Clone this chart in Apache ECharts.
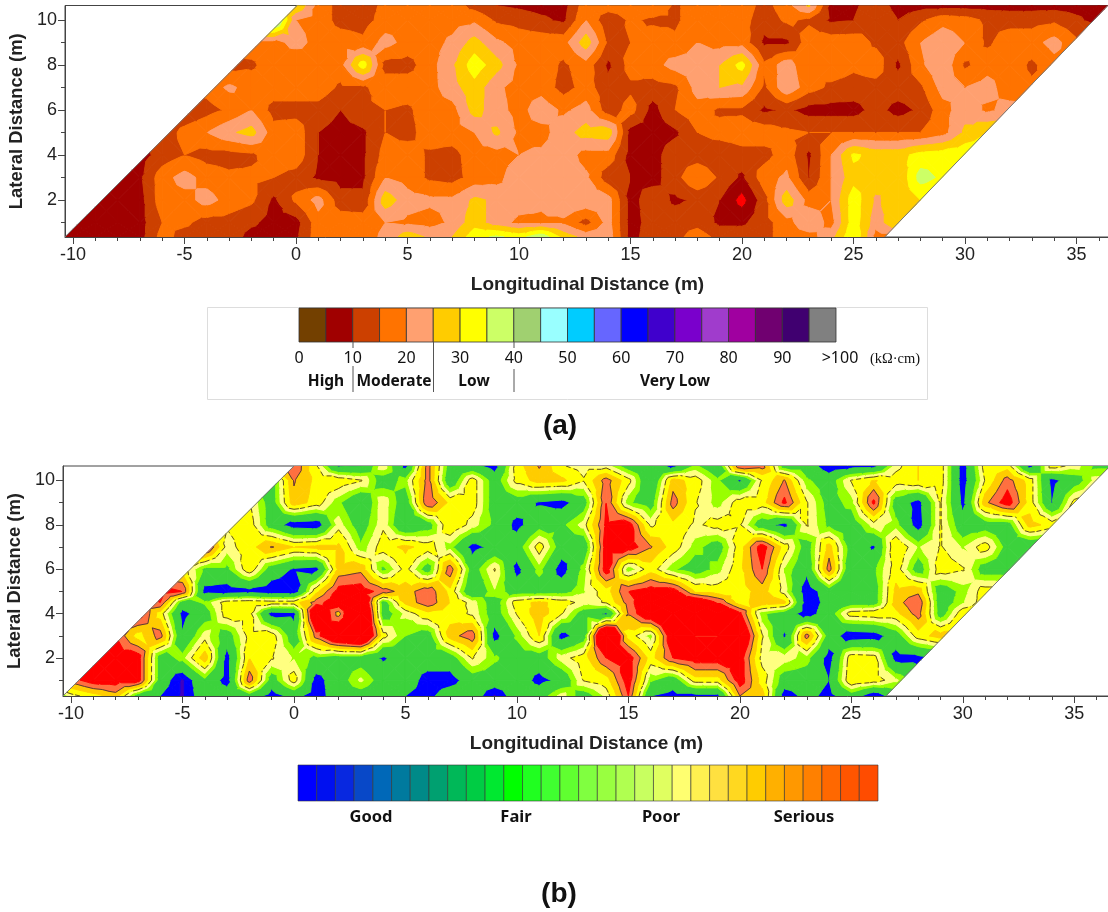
<!DOCTYPE html>
<html>
<head>
<meta charset="utf-8">
<title>Resistivity and half-cell rating maps</title>
<script src="https://cdn.jsdelivr.net/npm/echarts@6/dist/echarts.min.js"></script>
<style>
html, body { margin: 0; padding: 0; background: #fff; }
#main { width: 1108px; height: 912px; }
</style>
</head>
<body>
<div id="main"></div>
<script>
// panel (a) resistivity, one list per survey line
var rowYA = [0.36, 1, 2, 3, 4, 5, 6, 7, 8, 9, 10, 10.64];
var firstXA = [-11, -10, -9, -8, -7, -6, -5, -4, -3, -2, -1, 0];
var resist00 = [8,8,8,8,8,17,13,13,13,8,8,9,18,18,18,21,28,24,25,33,36,33,39,28,23,23,8,13,13,18,13,13,13,18,18,23,35,18,18];
var resist01 = [8,8,8,8,15,16,13,13,11,8,8,18,18,18,20,19,18,21,28,22,19,19,19,13,22,8,12,13,13,9,9,13,18,24,18,33,22,30];
var resist02 = [8,8,8,18,18,22,18,16,9,16,22,12,11,28,22,21,21,26,24,22,21,24,24,22,8,13,9,11,10,3,13,28,18,20,33,24,28,30];
var resist03 = [8,9,18,22,18,16,16,15,13,9,8,9,20,18,14,13,17,18,24,24,23,21,12,10,8,13,20,14,9,18,21,10,20,28,28,25,37,34];
var resist04 = [8,12,15,13,13,14,18,18,10,8,9,17,18,14,13,18,18,20,21,23,18,18,8,8,13,12,11,13,13,18,9,20,31,28,28,32,33,34];
var resist05 = [11,17,20,24,27,17,18,10,8,9,15,13,18,18,20,26,19,18,23,27,28,8,8,9,15,17,18,18,16,15,15,15,15,15,15,18,26,30];
var resist06 = [10,13,16,20,13,13,13,10,14,15,14,18,18,27,22,18,23,19,22,12,17,8,15,18,14,14,9,11,8,8,8,12,8,11,18,23,19,22];
var resist07 = [17,21,18,18,18,18,14,14,18,18,18,23,28,21,18,18,13,17,12,14,13,14,22,25,24,14,24,17,14,13,13,13,14,22,20,22,17,16];
var resist08 = [13,14,18,15,18,18,33,13,13,18,24,33,27,19,18,14,18,9,17,18,22,22,25,32,16,23,15,18,16,18,9,19,24,14,18,18,14,18];
var resist09 = [18,18,22,18,18,16,22,18,18,21,27,21,18,18,18,28,14,15,18,16,20,18,18,9,9,18,18,18,14,13,20,24,20,14,18,18,22,16];
var resist10 = [45,20,18,13,13,17,18,18,18,19,14,13,11,9,20,11,16,14,14,18,18,17,12,16,14,9,10,14,10,14,18,17,14,13,13,14,11,8];
var resist11 = [30,18,13,13,16,18,18,18,13,10,9,8,8,18,18,18,20,14,18,18,18,13,18,26,8,9,13,8,8,8,8,8,8,8,8,8,8,8];
var resistRows = [resist00,resist01,resist02,resist03,resist04,resist05,resist06,resist07,resist08,resist09,resist10,resist11];
var resistLevels = [0,5,10,15,20,25,30,35,40,45,50,55,200];
var resistColors = ["#ff0000","#a00000","#cc4000","#ff7300","#ffa070","#ffcc00","#ffff00","#ccff66","#a0d070","#99ffff","#00ccff","#6666ff"];
var edgeXA = [-10.36, 0.05, 26.4, 36.4];

// panel (b) condition rating
var rowYB = [0.29, 1, 2, 3, 4, 4.5, 5, 6, 7, 8, 9, 10, 10.65];
var firstXB = [-11, -10, -9, -8, -7, -7, -6, -5, -4, -3, -2, -1, 0];
var rate00 = [20,50,60,70,30,20,8,30,30,30,13,25,12,30,30,25,20,15,30,30,8,30,30,50,30,48,85,20,15,15,15,75,70,12,25,15,30,8,30];
var rate01 = [80,92,92,92,30,8,35,13,82,30,60,14,30,48,30,30,13,13,30,30,30,15,25,55,60,92,40,28,60,60,92,60,30,30,20,65,60,48,30];
var rate02 = [92,92,92,30,42,72,14,65,55,45,35,30,30,18,30,30,30,55,40,30,30,50,60,85,92,60,85,92,92,92,50,50,42,13,62,60,14,15,20];
var rate03 = [85,60,80,22,50,30,58,60,28,80,110,120,58,38,30,70,82,14,40,65,14,30,130,60,42,100,85,85,110,55,18,80,30,10,12,30,60,70];
var rate04 = [92,60,15,30,60,58,14,16,110,70,130,30,48,62,60,52,30,55,72,55,30,18,76,100,110,110,110,88,40,30,12,30,60,62,62,80,30,62];
var rate045 = [70,85,30,40,60,62,60,60,80,95,115,30,68,82,65,50,30,60,68,60,50,55,80,100,100,100,85,60,72,68,12,25,30,30,70,85,28,45,60];
var rate05 = [92,85,15,12,15,10,10,62,90,92,80,70,82,62,22,45,30,30,32,45,60,85,92,92,65,60,60,70,50,10,30,20,30,68,72,28,42,60];
var rate06 = [60,35,35,62,30,18,15,68,72,35,58,30,82,30,55,15,42,12,42,92,40,60,40,30,42,62,85,45,25,80,22,35,60,30,60,55,30,30];
var rate07 = [92,50,60,76,65,68,68,40,60,68,60,42,15,25,30,60,30,25,92,92,76,60,42,30,60,92,60,30,70,30,18,65,45,55,45,60,32,22];
var rate08 = [55,60,30,12,10,50,30,52,20,30,65,50,35,15,32,35,50,88,92,52,62,52,58,55,28,15,55,35,28,50,42,12,55,28,30,30,70,60];
var rate09 = [55,30,72,60,40,22,52,28,85,62,60,30,30,18,14,30,85,40,30,80,55,42,60,60,88,55,32,42,88,30,14,55,16,72,92,60,20,58];
var rate10 = [30,76,62,62,55,30,42,80,25,60,30,58,70,68,55,80,58,20,70,60,40,18,55,76,40,30,55,66,60,65,60,12,55,80,60,15,30,50];
var rate11 = [85,55,18,20,52,15,80,30,25,13,60,76,55,50,50,30,30,15,40,25,85,80,30,30,10,14,15,50,65,60,12,60,60,15,60,50,35,35];
var rateRows = [rate00,rate01,rate02,rate03,rate04,rate045,rate05,rate06,rate07,rate08,rate09,rate10,rate11];
var rateLevels = [0,10,20,38,46,54,65,75,85,200];
var rateColors = ["#4000c0","#0000ff","#3cd23c","#99ff00","#ffff80","#ffff00","#ffcc00","#ff7040","#ff0000"];
var edgeXB = [-10.36, 0.0, 26.55, 36.6];

// colour bars
var barColorsA = ["#734000","#a00000","#cc4000","#ff7300","#ffa070","#ffcc00","#ffff00","#ccff66","#a0d070","#99ffff","#00ccff","#6666ff","#0000ff","#4000cc","#7a00cc","#a03ccc","#a000a0","#700070","#400070","#808080"];
var barTicksA = ["0","10","20","30","40","50","60","70","80","90",">100"];
var barColorsB = ["#0000ff","#0010f0","#0828e0","#0848c8","#0068b8","#007a9e","#008a88","#00a070","#00b858","#00cc44","#00e830","#00ff00","#20ff20","#40ff30","#60ff30","#80ff40","#99ff40","#b0ff50","#c8ff60","#e0ff60","#ffff70","#fff050","#ffe040","#ffd820","#ffcc00","#ffb000","#ff9800","#ff8000","#ff6800","#ff5500","#ff4c00"];

var majorX = [-10, -5, 0, 5, 10, 15, 20, 25, 30, 35];
var minorX = [];
for (var mx = -10; mx <= 36; mx++) minorX.push(mx);
var majorY = [2, 4, 6, 8, 10];
var minorY = [1, 3, 5, 7, 9];

var labelFont = "Liberation Sans";

// cut a convex polygon [x, y, v] to the side where f(p) >= 0
function clipPoly(poly, f) {
  var out = [];
  for (var i = 0; i < poly.length; i++) {
    var a = poly[i], b = poly[(i + 1) % poly.length];
    var fa = f(a), fb = f(b);
    if (fa >= 0) out.push(a);
    if ((fa >= 0) !== (fb >= 0)) {
      var t = fa / (fa - fb);
      out.push([a[0] + (b[0] - a[0]) * t, a[1] + (b[1] - a[1]) * t, a[2] + (b[2] - a[2]) * t]);
    }
  }
  return out;
}

// filled bands and iso lines from the gridded rows
function buildContour(rows, firstX, rowY, levels, edges, lineLevels) {
  var y0 = rowY[0], y1 = rowY[rowY.length - 1];
  function leftX(y) { return edges[0] + (edges[1] - edges[0]) * (y - y0) / (y1 - y0); }
  function rightX(y) { return edges[2] + (edges[3] - edges[2]) * (y - y0) / (y1 - y0); }
  function at(j, x) {
    var k = Math.max(0, Math.min(rows[j].length - 1, x - firstX[j]));
    return rows[j][k];
  }
  var polys = [], lines = [];
  for (var j = 0; j < rows.length - 1; j++) {
    var xa = firstX[j], xb = firstX[j + 1] + rows[j + 1].length;
    for (var x = xa; x < xb; x++) {
      var c = [
        [x, rowY[j], at(j, x)],
        [x + 1, rowY[j], at(j, x + 1)],
        [x + 1, rowY[j + 1], at(j + 1, x + 1)],
        [x, rowY[j + 1], at(j + 1, x)]
      ];
      var mid = [x + 0.5, (rowY[j] + rowY[j + 1]) / 2, (c[0][2] + c[1][2] + c[2][2] + c[3][2]) / 4];
      for (var s = 0; s < 4; s++) {
        var tri = [c[s], c[(s + 1) % 4], mid];
        tri = clipPoly(tri, function (p) { return p[0] - leftX(p[1]); });
        if (tri.length < 3) continue;
        tri = clipPoly(tri, function (p) { return rightX(p[1]) - p[0]; });
        if (tri.length < 3) continue;
        for (var b = 0; b < levels.length - 1; b++) {
          (function (lo, hi, band) {
            var part = clipPoly(tri, function (p) { return p[2] - lo; });
            if (part.length >= 3) part = clipPoly(part, function (p) { return hi - p[2]; });
            if (part.length >= 3) polys.push({ band: band, pts: part });
          })(levels[b], levels[b + 1], b);
        }
        lineLevels.forEach(function (ll) {
          var cross = [];
          for (var i = 0; i < tri.length; i++) {
            var p = tri[i], q = tri[(i + 1) % tri.length];
            if ((p[2] >= ll.level) !== (q[2] >= ll.level)) {
              var t = (ll.level - p[2]) / (q[2] - p[2]);
              cross.push([p[0] + (q[0] - p[0]) * t, p[1] + (q[1] - p[1]) * t]);
            }
          }
          if (cross.length === 2) lines.push({ a: cross[0], b: cross[1], dash: ll.dash });
        });
      }
    }
  }
  return { polys: polys, lines: lines };
}

function bandSeries(name, gridIdx, contour, colors) {
  return {
    name: name,
    type: "custom",
    xAxisIndex: gridIdx * 2,
    yAxisIndex: gridIdx * 2,
    coordinateSystem: "cartesian2d",
    clip: true,
    silent: true,
    animation: false,
    progressive: 0,
    encode: { x: 0, y: 1 },
    data: contour.polys.map(function (p) { return [p.pts[0][0], p.pts[0][1]]; }),
    renderItem: function (params, api) {
      var item = contour.polys[params.dataIndex];
      var col = colors[item.band];
      return {
        type: "polygon",
        shape: { points: item.pts.map(function (p) { return api.coord([p[0], p[1]]); }) },
        style: { fill: col, stroke: col, lineWidth: 1 }
      };
    }
  };
}

function lineSeries(name, gridIdx, contour) {
  return {
    name: name,
    type: "custom",
    xAxisIndex: gridIdx * 2,
    yAxisIndex: gridIdx * 2,
    coordinateSystem: "cartesian2d",
    clip: true,
    silent: true,
    animation: false,
    progressive: 0,
    encode: { x: 0, y: 1 },
    data: contour.lines.map(function (l) { return [l.a[0], l.a[1]]; }),
    renderItem: function (params, api) {
      var item = contour.lines[params.dataIndex];
      var a = api.coord(item.a), b = api.coord(item.b);
      return {
        type: "line",
        shape: { x1: a[0], y1: a[1], x2: b[0], y2: b[1] },
        style: { stroke: "#4a3a2a", lineWidth: 0.9, lineDash: item.dash ? [5, 3] : null }
      };
    }
  };
}

function edgeSeries(name, gridIdx, a, b) {
  return {
    name: name,
    type: "line",
    xAxisIndex: gridIdx * 2,
    yAxisIndex: gridIdx * 2,
    silent: true,
    animation: false,
    symbol: "none",
    lineStyle: { color: "#777", width: 1 },
    data: [a, b]
  };
}

var contourA = buildContour(resistRows, firstXA, rowYA, resistLevels, edgeXA, []);
var contourB = buildContour(rateRows, firstXB, rowYB, rateLevels, edgeXB, [
  { level: 54.01, dash: true },
  { level: 75.01, dash: false }
]);

function xAxes(gridIdx, min, max) {
  return [{
    type: "value",
    gridIndex: gridIdx,
    min: min,
    max: max,
    name: "Longitudinal Distance (m)",
    nameLocation: "middle",
    nameGap: 38,
    nameTextStyle: { fontFamily: labelFont, fontWeight: "bold", fontSize: 19, color: "#222" },
    splitLine: { show: false },
    axisLine: { onZero: false, lineStyle: { color: "#444" } },
    axisTick: { length: 7, customValues: majorX, lineStyle: { color: "#444" } },
    axisLabel: { customValues: majorX, margin: 9, fontFamily: labelFont, fontSize: 18, color: "#222", hideOverlap: false }
  }, {
    type: "value",
    gridIndex: gridIdx,
    min: min,
    max: max,
    position: "bottom",
    splitLine: { show: false },
    axisLine: { show: false, onZero: false },
    axisTick: { length: 4, customValues: minorX, lineStyle: { color: "#444" } },
    axisLabel: { show: false }
  }];
}

function yAxes(gridIdx, min, max) {
  return [{
    type: "value",
    gridIndex: gridIdx,
    min: min,
    max: max,
    name: "Lateral Distance (m)",
    nameLocation: "middle",
    nameGap: 38,
    nameTextStyle: { fontFamily: labelFont, fontWeight: "bold", fontSize: 18.4, color: "#222" },
    splitLine: { show: false },
    axisLine: { onZero: false, lineStyle: { color: "#444" } },
    axisTick: { length: 7, customValues: majorY, lineStyle: { color: "#444" } },
    axisLabel: { customValues: majorY, margin: 8, fontFamily: labelFont, fontSize: 18, color: "#222", hideOverlap: false }
  }, {
    type: "value",
    gridIndex: gridIdx,
    min: min,
    max: max,
    position: "left",
    splitLine: { show: false },
    axisLine: { show: false, onZero: false },
    axisTick: { length: 4, customValues: minorY, lineStyle: { color: "#444" } },
    axisLabel: { show: false }
  }];
}

// legend pieces
var legendFont = "Noto Sans";
var graphics = [];
function addText(text, x, y, size, weight, family) {
  graphics.push({
    type: "text",
    silent: true,
    style: {
      text: text, x: x, y: y, align: "center", verticalAlign: "middle",
      font: (weight || "normal") + " " + size + "px '" + (family || legendFont) + "'", fill: "#111"
    }
  });
}
function addLine(x, y1, y2) {
  graphics.push({
    type: "line",
    silent: true,
    shape: { x1: x, y1: y1, x2: x, y2: y2 },
    style: { stroke: "#555", lineWidth: 1 }
  });
}

graphics.push({
  type: "rect",
  silent: true,
  shape: { x: 207.5, y: 307.5, width: 720, height: 92 },
  style: { fill: "#fff", stroke: "#ddd", lineWidth: 1 }
});
var barAX = 299, barAW = 537 / barColorsA.length;
barColorsA.forEach(function (col, i) {
  graphics.push({
    type: "rect",
    silent: true,
    shape: { x: barAX + i * barAW, y: 308, width: barAW, height: 34 },
    style: { fill: col, stroke: "#333", lineWidth: 0.8 }
  });
});
barTicksA.forEach(function (t, i) {
  addText(t, barAX + i * barAW * 2 + (i === 10 ? 4 : 0), 358, 16, "normal");
});
addText("(kΩ·cm)", 895, 359, 14.5, "normal", "Liberation Serif");
addLine(353, 342, 348);
addLine(353, 366, 392);
addLine(433.5, 342, 392);
addLine(514, 342, 348);
addLine(514, 369, 392);
addText("High", 326, 382, 15.5, "bold");
addText("Moderate", 394, 382, 15.5, "bold");
addText("Low", 474, 382, 15.5, "bold");
addText("Very Low", 675, 382, 15.5, "bold");
addText("(a)", 560, 426, 28, "bold", labelFont);

var barBX = 298, barBW = 580 / barColorsB.length;
barColorsB.forEach(function (col, i) {
  graphics.push({
    type: "rect",
    silent: true,
    shape: { x: barBX + i * barBW, y: 765, width: barBW, height: 36 },
    style: { fill: col, stroke: "#333", lineWidth: 0.6 }
  });
});
addText("Good", 371, 817, 16.5, "bold");
addText("Fair", 516, 817, 16.5, "bold");
addText("Poor", 661, 817, 16.5, "bold");
addText("Serious", 804, 817, 16.5, "bold");
addText("(b)", 559, 894, 28, "bold", labelFont);

var chart = echarts.init(document.getElementById("main"), null, { renderer: "canvas" });
var option = {
  animation: false,
  backgroundColor: "#fff",
  grid: [
    { left: 65, top: 5.5, width: 1045, height: 231.5, show: true, borderColor: "#444", borderWidth: 1, backgroundColor: "transparent", outerBoundsMode: "none" },
    { left: 63, top: 466, width: 1047, height: 230, show: true, borderColor: "#444", borderWidth: 1, backgroundColor: "transparent", outerBoundsMode: "none" }
  ],
  xAxis: xAxes(0, -10.36, 36.5).concat(xAxes(1, -10.36, 36.6)),
  yAxis: yAxes(0, 0.356, 10.64).concat(yAxes(1, 0.288, 10.65)),
  series: [
    bandSeries("resistivity", 0, contourA, resistColors),
    edgeSeries("edge a left", 0, [edgeXA[0], rowYA[0]], [edgeXA[1], rowYA[rowYA.length - 1]]),
    edgeSeries("edge a right", 0, [edgeXA[2], rowYA[0]], [edgeXA[3], rowYA[rowYA.length - 1]]),
    bandSeries("rating", 1, contourB, rateColors),
    lineSeries("rating lines", 1, contourB),
    edgeSeries("edge b left", 1, [edgeXB[0], rowYB[0]], [edgeXB[1], rowYB[rowYB.length - 1]]),
    edgeSeries("edge b right", 1, [edgeXB[2], rowYB[0]], [edgeXB[3], rowYB[rowYB.length - 1]])
  ],
  graphic: graphics
};
chart.setOption(option);
</script>
</body>
</html>
